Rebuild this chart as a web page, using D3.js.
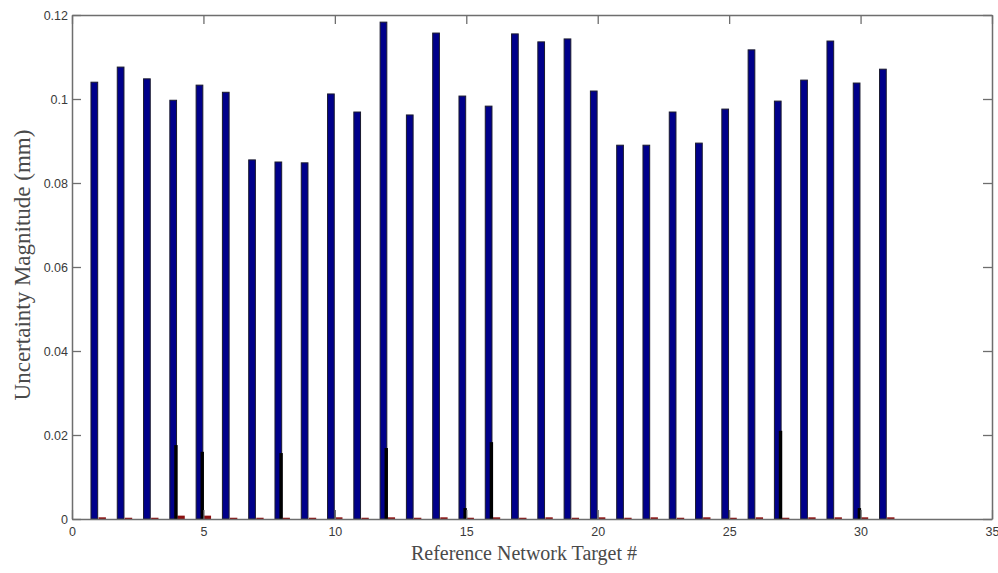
<!DOCTYPE html>
<html>
<head>
<meta charset="utf-8">
<script src="https://cdn.jsdelivr.net/npm/d3@7"></script>
<style>
  html, body { margin: 0; padding: 0; background: #fff; }
  svg { display: block; }
</style>
</head>
<body>
<svg id="chart" width="998" height="573"></svg>
<script>
// Target numbers 1..31
const targets = d3.range(1, 32);

// Uncertainty magnitude per target (mm), three grouped series
const seriesA = [0.1040, 0.1076, 0.1048, 0.0997, 0.1033, 0.1016, 0.0855, 0.0850, 0.0848, 0.1012,
                 0.0969, 0.1183, 0.0962, 0.1157, 0.1007, 0.0983, 0.1155, 0.1136, 0.1143, 0.1019,
                 0.0890, 0.0890, 0.0969, 0.0895, 0.0976, 0.1117, 0.0995, 0.1045, 0.1138, 0.1038,
                 0.1071];
const seriesB = [0.0000, 0.0000, 0.0000, 0.0176, 0.0160, 0.0000, 0.0000, 0.0157, 0.0000, 0.0000,
                 0.0000, 0.0169, 0.0000, 0.0000, 0.0026, 0.0183, 0.0000, 0.0000, 0.0000, 0.0000,
                 0.0000, 0.0000, 0.0000, 0.0000, 0.0000, 0.0000, 0.0210, 0.0000, 0.0000, 0.0026,
                 0.0000];
const seriesC = [0.0004, 0.0003, 0.0003, 0.0008, 0.0008, 0.0003, 0.0003, 0.0003, 0.0003, 0.0004,
                 0.0003, 0.0004, 0.0003, 0.0004, 0.0003, 0.0004, 0.0003, 0.0004, 0.0003, 0.0004,
                 0.0003, 0.0004, 0.0003, 0.0004, 0.0003, 0.0004, 0.0003, 0.0004, 0.0004, 0.0004,
                 0.0004];

const xTicks = [0, 5, 10, 15, 20, 25, 30, 35];
const yTicks = [0, 0.02, 0.04, 0.06, 0.08, 0.1, 0.12];
const yTickLabels = ["0", "0.02", "0.04", "0.06", "0.08", "0.1", "0.12"];

const svg = d3.select("#chart");
const plot = { left: 72, right: 992, top: 15, bottom: 519 };

const x = d3.scaleLinear().domain([0, 35]).range([plot.left, plot.right]);
const y = d3.scaleLinear().domain([0, 0.12]).range([plot.bottom, plot.top]);

// bar placement inside each group, in data units
const groups = [
  { values: seriesA, x0: -0.278, x1: -0.023, fill: "#00008a", stroke: "#1a1a2e", sw: 1 },
  { values: seriesC, x0: 0.01, x1: 0.29, fill: "#8b1010", stroke: "none", sw: 0 },
  { values: seriesB, x0: -0.11, x1: 0.02, fill: "#000000", stroke: "none", sw: 0 }
];

groups.forEach(g => {
  svg.append("g").selectAll("rect")
    .data(targets)
    .join("rect")
    .attr("x", d => x(d + g.x0))
    .attr("width", d => x(d + g.x1) - x(d + g.x0))
    .attr("y", (d, i) => y(g.values[i]))
    .attr("height", (d, i) => y(0) - y(g.values[i]))
    .attr("fill", g.fill)
    .attr("stroke", g.stroke)
    .attr("stroke-width", g.sw)
    .attr("display", (d, i) => g.values[i] > 0 ? null : "none");
});

// axes box with inward ticks on all four sides
const axisColor = "#6e6e6e";
const tickLen = 9;

const bottomAxis = d3.axisBottom(x).tickValues(xTicks).tickSizeInner(-tickLen).tickSizeOuter(0).tickPadding(6);
const topAxis = d3.axisTop(x).tickValues(xTicks).tickSizeInner(-tickLen).tickSizeOuter(0).tickFormat("");
const leftAxis = d3.axisLeft(y).tickValues(yTicks).tickSizeInner(-tickLen).tickSizeOuter(0).tickPadding(4)
  .tickFormat((d, i) => yTickLabels[i]);
const rightAxis = d3.axisRight(y).tickValues(yTicks).tickSizeInner(-tickLen).tickSizeOuter(0).tickFormat("");

function style(g) {
  g.select(".domain").attr("stroke", axisColor).attr("stroke-width", 1.5);
  g.selectAll(".tick line").attr("stroke", axisColor).attr("stroke-width", 1.3);
  g.selectAll(".tick text").attr("fill", "#3a3a3a")
    .style("font-family", "'Liberation Sans', Arial, sans-serif").style("font-size", "12.5px");
}

svg.append("g").attr("transform", `translate(0,${plot.bottom})`).call(bottomAxis).call(style)
  .selectAll(".tick text").attr("dy", "0.9em");
svg.append("g").attr("transform", `translate(0,${plot.top})`).call(topAxis).call(style);
svg.append("g").attr("transform", `translate(${plot.left},0)`).call(leftAxis).call(style);
svg.append("g").attr("transform", `translate(${plot.right},0)`).call(rightAxis).call(style);

// axis titles
svg.append("text")
  .attr("x", 524).attr("y", 560)
  .attr("text-anchor", "middle")
  .attr("fill", "#4a4a4a")
  .style("font-family", "'Liberation Serif', 'DejaVu Serif', serif")
  .style("font-size", "20px")
  .text("Reference Network Target #");

svg.append("text")
  .attr("transform", "translate(30,265) rotate(-90)")
  .attr("text-anchor", "middle")
  .attr("fill", "#4a4a4a")
  .style("font-family", "'Liberation Serif', 'DejaVu Serif', serif")
  .style("font-size", "23px")
  .text("Uncertainty Magnitude (mm)");
</script>
</body>
</html>
